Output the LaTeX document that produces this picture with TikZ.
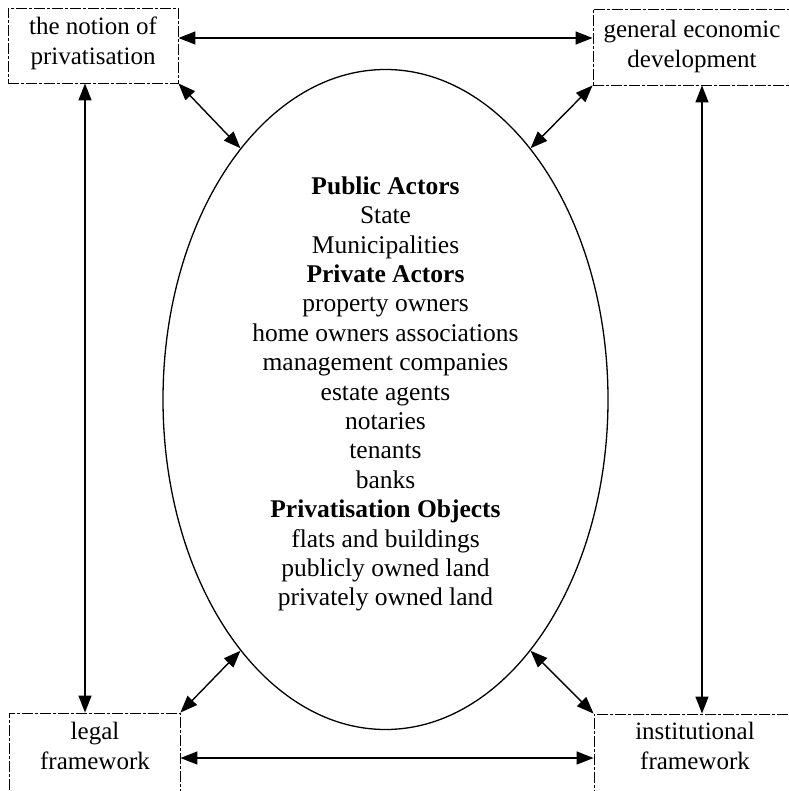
\documentclass[tikz,border=0pt]{standalone}
\usepackage{fontspec}
\setmainfont{Liberation Serif}
\usetikzlibrary{arrows.meta,shapes.geometric}
\begin{document}
\begin{tikzpicture}[x=1pt,y=-1pt,
  framebox/.style={draw, line width=0.9pt,
    dash pattern=on 11pt off 2pt on 3pt off 2pt, inner sep=0pt},
  boxtext/.style={inner sep=0pt, align=center,
    font=\fontsize{25}{30}\selectfont},
  link/.style={line width=1.4pt,
    {Triangle[length=17pt,width=13pt]}-{Triangle[length=17pt,width=13pt]}},
  ]
\useasboundingbox (0,0) rectangle (788,791);

% corner boxes
\node[framebox, minimum width=170pt, minimum height=75pt] (tl) at (93,45.5) {};
\node[framebox, minimum width=202pt, minimum height=76pt] (tr) at (694,47) {};
\node[framebox, minimum width=171pt, minimum height=78pt] (bl) at (94.5,752) {};
\node[framebox, minimum width=202pt, minimum height=78pt] (br) at (695,753) {};

\node[boxtext] (tltext) at (93,43.8) {the notion of\\privatisation};
\node[boxtext] (trtext) at (692,46.3) {general economic\\development};
\node[boxtext] (bltext) at (95,745.5) {legal\\framework};
\node[boxtext] (brtext) at (695,746) {institutional\\framework};

% central ellipse with the actors and objects
\node[draw, ellipse, line width=1.3pt, minimum width=445pt,
  minimum height=660pt, inner sep=0pt] (ell) at (385.5,399.5) {};
\node[inner sep=0pt, align=center, font=\fontsize{25.5}{29.4}\selectfont]
  (actors) at (385.5,394) {%
  \textbf{Public Actors}\\
  State\\
  Municipalities\\
  \textbf{Private Actors}\\
  property owners\\
  home owners associations\\
  management companies\\
  estate agents\\
  notaries\\
  tenants\\
  banks\\
  \textbf{Privatisation Objects}\\
  flats and buildings\\
  publicly owned land\\
  privately owned land};

% links between the boxes
\draw[link] ([yshift=7.5pt]tl.east) -- ([yshift=9pt]tr.west);
\draw[link] ([yshift=-6pt]bl.east) -- ([yshift=-5pt]br.west);
\draw[link] ([xshift=-8pt]tl.south) -- ([xshift=-9.5pt]bl.north);
\draw[link] ([xshift=8pt]tr.south) -- ([xshift=7pt]br.north);

% links between the boxes and the ellipse
\draw[link] (tl.south east) -- (ell.120);
\draw[link] (tr.south west) -- (ell.60.6);
\draw[link] (bl.north east) -- (ell.240.3);
\draw[link] (br.north west) -- (ell.300.2);
\end{tikzpicture}
\end{document}
